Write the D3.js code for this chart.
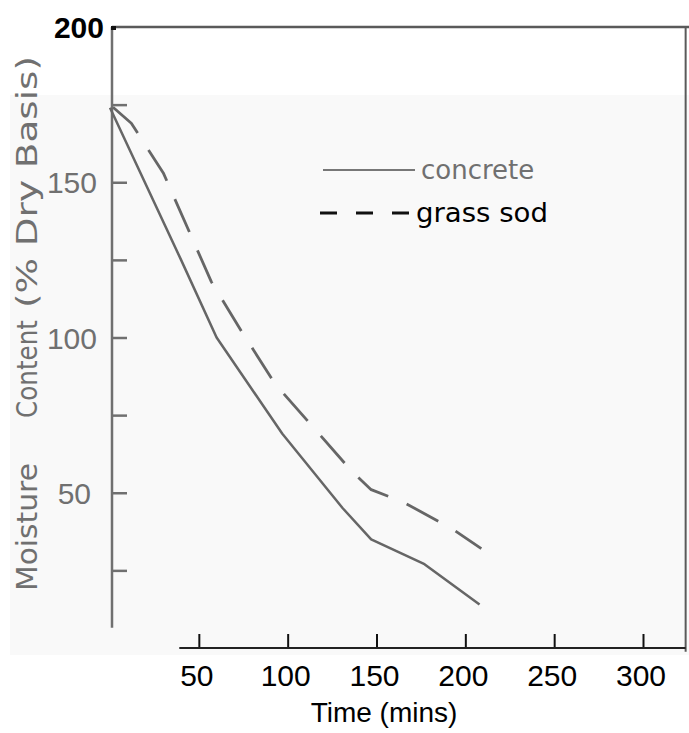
<!DOCTYPE html>
<html>
<head>
<meta charset="utf-8">
<script src="https://cdn.jsdelivr.net/npm/d3@7/dist/d3.min.js"></script>
<style>
  html, body { margin: 0; padding: 0; background: #ffffff; }
  svg { display: block; }
</style>
</head>
<body>
<script>
// ---- data ----
const concreteTime  = [0, 40, 60, 97, 131, 147, 177, 208];
const concreteValue = [174, 125, 100, 69, 45, 35, 27, 14];
const grassTime     = [0, 12, 30, 57, 74, 93, 113, 136, 147, 165, 192, 209];
const grassValue    = [175, 169, 153, 118, 102, 85, 72, 57, 51, 47, 38.6, 32];
const xTicks = [50, 100, 150, 200, 250, 300];
const yTicksMajor = [50, 100, 150, 200];
const yTicksAll = [25, 50, 75, 100, 125, 150, 175, 200];
const seriesNames = ["concrete", "grass sod"];
const yTitleParts = ["Moisture", "Content", "(% Dry Basis)"];
const xTitle = "Time (mins)";

const W = 689, H = 733;
const svg = d3.select("body").append("svg").attr("width", W).attr("height", H);

// faint scanned-paper background
svg.append("rect").attr("x", 0).attr("y", 0).attr("width", W).attr("height", H).attr("fill", "#ffffff");
svg.append("rect").attr("x", 10).attr("y", 95).attr("width", 679).attr("height", 560).attr("fill", "#f9f9f9");

const x = d3.scaleLinear().domain([0, 300]).range([110, 643]);
const y = d3.scaleLinear().domain([0, 200]).range([648, 27]);

const gray = "#707070";
const numFont = "Liberation Sans, Arial, sans-serif";
const txtFont = "DejaVu Sans, sans-serif";

// frame: top and right border
const xRight = x(324);
svg.append("line").attr("x1", 112).attr("x2", W).attr("y1", y(200)).attr("y2", y(200))
  .attr("stroke", "#5a5a5a").attr("stroke-width", 2.5);
svg.append("line").attr("x1", xRight).attr("x2", xRight).attr("y1", y(200)).attr("y2", y(-1.2))
  .attr("stroke", "#5a5a5a").attr("stroke-width", 2);

// y axis (ticks pointing inward)
const yAxis = d3.axisRight(y).tickValues(yTicksAll).tickSize(15).tickFormat("");
const gy = svg.append("g").attr("transform", "translate(112,0)").call(yAxis);
gy.select(".domain").remove();
gy.selectAll(".tick line").attr("stroke", gray).attr("stroke-width", 2.5);
gy.selectAll(".tick").filter(d => d === 200).remove();
svg.append("line").attr("x1", 112).attr("x2", 112).attr("y1", y(200)).attr("y2", y(6.5))
  .attr("stroke", gray).attr("stroke-width", 2.5);
svg.append("line").attr("x1", 111).attr("x2", 116).attr("y1", y(200) + 1).attr("y2", y(200) + 1)
  .attr("stroke", "#111").attr("stroke-width", 4);

// y tick labels
svg.selectAll("text.ylab").data(yTicksMajor).enter().append("text")
  .attr("class", "ylab")
  .attr("x", d => d === 200 ? 104 : (d === 50 ? 91 : 97))
  .attr("y", d => y(d) + 11)
  .attr("text-anchor", "end")
  .attr("font-family", numFont)
  .attr("font-size", 30)
  .attr("font-weight", d => d === 200 ? "bold" : "normal")
  .attr("fill", d => d === 200 ? "#000" : gray)
  .text(d => d);

// y title, three rotated words
const yTitleCenters = [527, 369, 182];
const yTitleLengths = [128, 98, 252];
yTitleParts.forEach((t, i) => {
  svg.append("text")
    .attr("transform", `translate(37,${yTitleCenters[i]}) rotate(-90)`)
    .attr("text-anchor", "middle")
    .attr("font-family", txtFont)
    .attr("font-size", 28)
    .attr("fill", gray)
    .attr("textLength", yTitleLengths[i])
    .attr("lengthAdjust", "spacingAndGlyphs")
    .text(t);
});

// x axis (ticks pointing up)
const xAxis = d3.axisTop(x).tickValues(xTicks).tickSize(14).tickFormat("");
const gx = svg.append("g").attr("transform", "translate(0,648)").call(xAxis);
gx.select(".domain").remove();
gx.selectAll(".tick line").attr("stroke", "#111").attr("stroke-width", 2);
svg.append("line").attr("x1", x(39)).attr("x2", xRight).attr("y1", 648).attr("y2", 648)
  .attr("stroke", "#222").attr("stroke-width", 2);

svg.selectAll("text.xlab").data(xTicks).enter().append("text")
  .attr("class", "xlab")
  .attr("x", d => x(d) - 2)
  .attr("y", 686)
  .attr("text-anchor", "middle")
  .attr("font-family", numFont)
  .attr("font-size", 30)
  .attr("fill", "#000")
  .text(d => d);

svg.append("text")
  .attr("x", 384).attr("y", 722)
  .attr("text-anchor", "middle")
  .attr("font-family", numFont)
  .attr("font-size", 28)
  .attr("fill", "#000")
  .text(xTitle);

// curves
const line = d3.line().x(d => x(d[0])).y(d => y(d[1]));
const concrete = concreteTime.map((t, i) => [t, concreteValue[i]]);
const grass = grassTime.map((t, i) => [t, grassValue[i]]);

svg.append("path").datum(concrete).attr("d", line)
  .attr("fill", "none").attr("stroke", "#666").attr("stroke-width", 2.5)
  .attr("stroke-linejoin", "round");
svg.append("path").datum(grass).attr("d", line)
  .attr("fill", "none").attr("stroke", "#666").attr("stroke-width", 2.8)
  .attr("stroke-dasharray", "36,20").attr("stroke-dashoffset", -4)
  .attr("stroke-linejoin", "round");

// legend
svg.append("line").attr("x1", 323).attr("x2", 415).attr("y1", 170).attr("y2", 170)
  .attr("stroke", "#777").attr("stroke-width", 2);
svg.append("text").attr("x", 421).attr("y", 179)
  .attr("font-family", txtFont).attr("font-size", 26).attr("fill", gray)
  .text(seriesNames[0]);
svg.append("line").attr("x1", 320).attr("x2", 412).attr("y1", 213).attr("y2", 213)
  .attr("stroke", "#111").attr("stroke-width", 3).attr("stroke-dasharray", "17,19");
svg.append("text").attr("x", 416).attr("y", 222)
  .attr("font-family", txtFont).attr("font-size", 27).attr("fill", "#000")
  .attr("textLength", 132).attr("lengthAdjust", "spacingAndGlyphs")
  .text(seriesNames[1]);
</script>
</body>
</html>
